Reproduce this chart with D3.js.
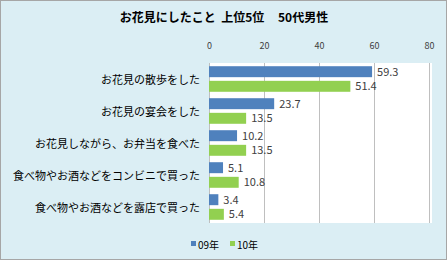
<!DOCTYPE html>
<html><head><meta charset="utf-8">
<script src="https://cdn.jsdelivr.net/npm/d3@7"></script>
<style>body{margin:0;background:#fff}svg{display:block}</style>
</head><body>
<svg id="c" width="448" height="261"></svg>
<script>
const categories = ["お花見の散歩をした","お花見の宴会をした","お花見しながら、お弁当を食べた","食べ物やお酒などをコンビニで買った","食べ物やお酒などを露店で買った"];
const seriesNames = ["09年","10年"];
const values09 = [59.3,23.7,10.2,5.1,3.4];
const values10 = [51.4,13.5,13.5,10.8,5.4];
const ticks = [0,20,40,60,80];
const colors = ["#4F81BD","#92D050"];
const font = "'Noto Sans CJK JP', 'Noto Sans', sans-serif";

const svg = d3.select("#c");
svg.append("rect").attr("x",0.5).attr("y",0.5).attr("width",446).attr("height",259)
  .attr("fill","#DBEEF4").attr("stroke","#A6A6A6");

const x = d3.scaleLinear().domain([0,80]).range([209,429]);
const y = d3.scaleBand().domain(categories).range([63,223]).paddingInner(0).paddingOuter(0);
const sub = d3.scaleBand().domain(seriesNames).range([0,y.bandwidth()]).paddingInner(0.25).paddingOuter(0.22);

svg.append("rect").attr("x",209).attr("y",63).attr("width",223).attr("height",160).attr("fill","#fff");

svg.append("g").selectAll("line").data(ticks.slice(1)).join("line")
  .attr("x1",d=>x(d)+0.5).attr("x2",d=>x(d)+0.5).attr("y1",63).attr("y2",223)
  .attr("stroke","#BFBFBF").attr("stroke-width",1);
svg.append("line").attr("x1",209.5).attr("x2",209.5).attr("y1",63).attr("y2",223).attr("stroke","#BFBFBF");

const axis = d3.axisTop(x).tickValues(ticks).tickSize(0).tickPadding(0);
const ax = svg.append("g").attr("transform","translate(0,49)").call(axis);
ax.select(".domain").remove();
ax.selectAll("text").attr("font-family",font).attr("font-size",9).attr("fill","#404040");

const data = [values09, values10];
data.forEach((vals,si)=>{
  const g = svg.append("g");
  g.selectAll("rect").data(vals).join("rect")
    .attr("x",x(0)).attr("y",(d,i)=>y(categories[i])+sub(seriesNames[si]))
    .attr("width",d=>x(d)-x(0)).attr("height",sub.bandwidth())
    .attr("fill",colors[si]);
  g.selectAll("text").data(vals).join("text")
    .attr("x",d=>x(d)+5).attr("y",(d,i)=>y(categories[i])+sub(seriesNames[si])+sub.bandwidth()/2+4)
    .attr("font-family",font).attr("font-size",11).attr("fill","#404040")
    .text(d=>d.toFixed(1));
});

svg.append("g").selectAll("text").data(categories).join("text")
  .attr("x",200).attr("y",d=>y(d)+y.bandwidth()/2+5)
  .attr("text-anchor","end").attr("font-family",font).attr("font-size",11).attr("fill","#000")
  .text(d=>d);

svg.append("text").attr("x",224).attr("y",22).attr("text-anchor","middle")
  .attr("font-family",font).attr("font-size",12).attr("font-weight","bold")
  .attr("xml:space","preserve").text("お花見にしたこと  上位5位     50代男性");

const lg = svg.append("g");
const lx = [191,230];
seriesNames.forEach((s,i)=>{
  lg.append("rect").attr("x",lx[i]).attr("y",241).attr("width",5).attr("height",5).attr("fill",colors[i]);
  lg.append("text").attr("x",lx[i]+7).attr("y",249).attr("font-family",font).attr("font-size",10).attr("fill","#000").text(s);
});
</script>
</body></html>
